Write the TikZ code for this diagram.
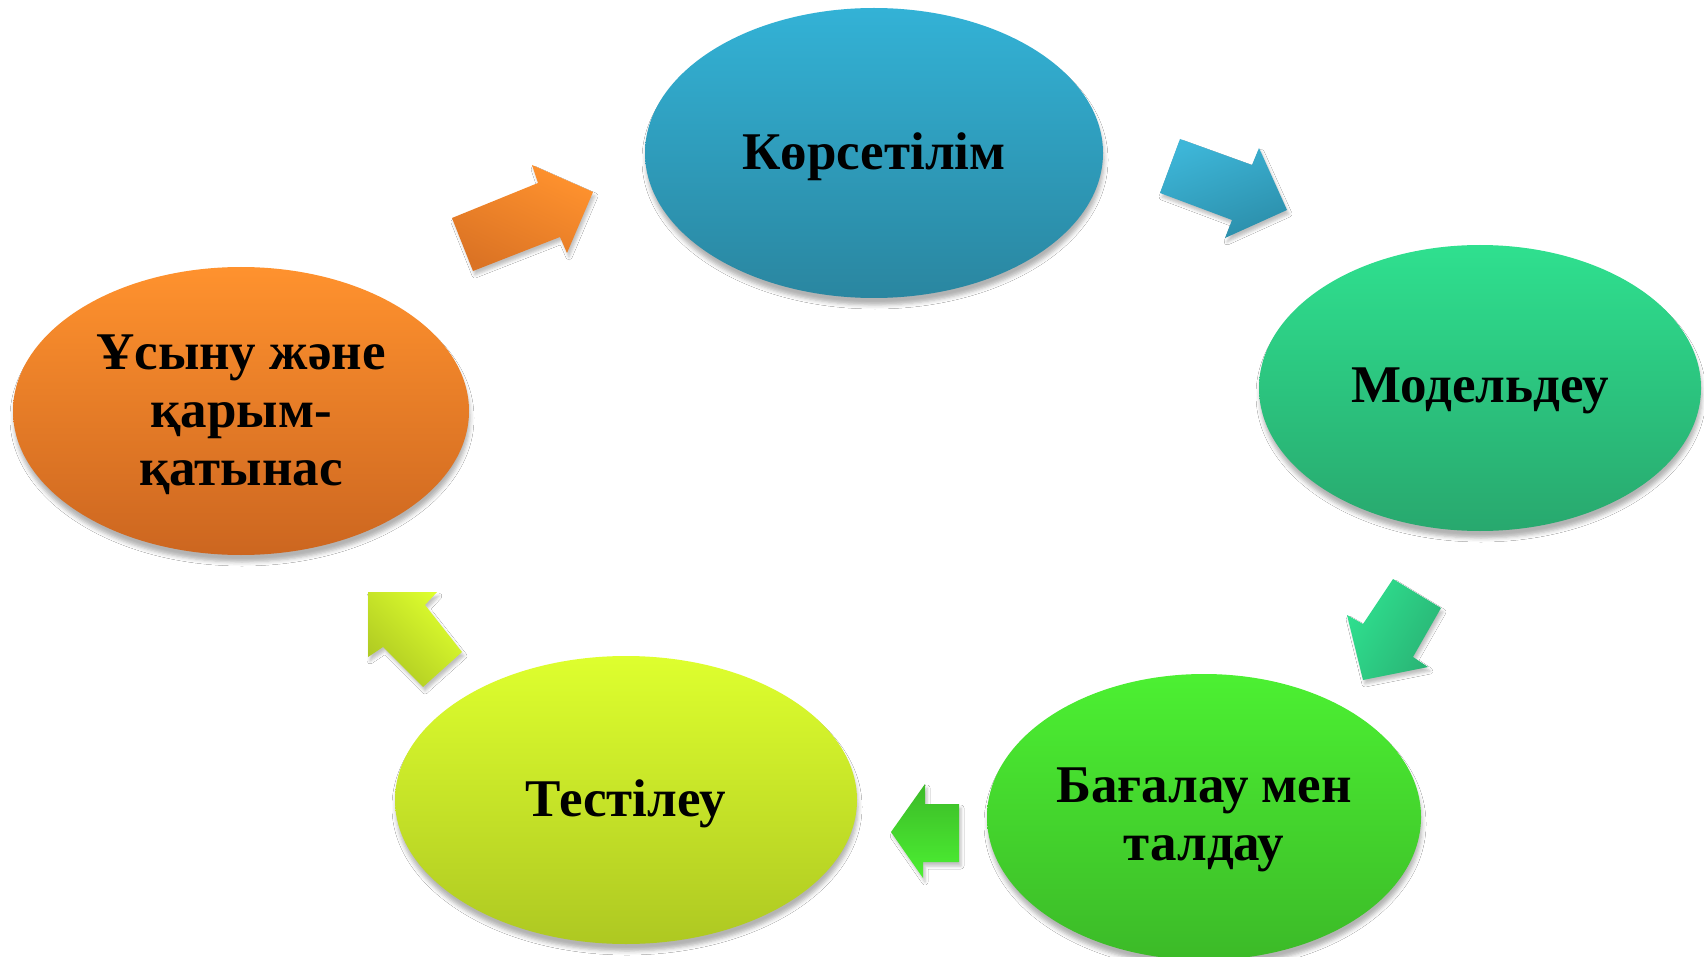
\documentclass[tikz,border=0pt]{standalone}
\usepackage{fontspec}
\setmainfont{Liberation Serif}
\usetikzlibrary{shapes.geometric,shadows.blur}
\definecolor{bluT}{HTML}{33B2D6}\definecolor{bluB}{HTML}{2A86A0}
\definecolor{grnT}{HTML}{2FE08F}\definecolor{grnB}{HTML}{28A86E}
\definecolor{limT}{HTML}{4CF032}\definecolor{limB}{HTML}{3CBA28}
\definecolor{yelT}{HTML}{DEFF2E}\definecolor{yelB}{HTML}{AEC822}
\definecolor{orgT}{HTML}{FF922E}\definecolor{orgB}{HTML}{CC6620}
\tikzset{
  stage/.style={ellipse, inner sep=0pt,
    blur shadow={shadow xshift=1pt, shadow yshift=-7pt, shadow blur radius=4pt, shadow opacity=30}},
  stagetext/.style={align=center, inner sep=0pt, font=\fontsize{53}{58}\selectfont\bfseries},
  blockarrow/.style={blur shadow={shadow xshift=2pt, shadow yshift=-4pt, shadow blur radius=3pt, shadow opacity=25}}
}
\begin{document}
\begin{tikzpicture}[x=1pt,y=-1pt]
\useasboundingbox[fill=white] (0,0) rectangle (1704,957);
\node[stage, minimum width=458pt, minimum height=290pt, top color=bluT, bottom color=bluB] (kor) at (874,153) {};
\node[stage, minimum width=442pt, minimum height=286pt, top color=grnT, bottom color=grnB] (mod) at (1480,388) {};
\node[stage, minimum width=434pt, minimum height=286pt, top color=limT, bottom color=limB] (bag) at (1204,817) {};
\node[stage, minimum width=462pt, minimum height=288pt, top color=yelT, bottom color=yelB] (tes) at (626,800) {};
\node[stage, minimum width=456pt, minimum height=288pt, top color=orgT, bottom color=orgB] (usy) at (241,411) {};
\node[stagetext] (korT) at ([yshift=-4pt]kor.center) {Көрсетілім};
\node[stagetext] (modT) at ([yshift=-3pt]mod.center) {Модельдеу};
\node[stagetext] (bagT) at ([yshift=-3pt]bag.center) {Бағалау мен\\талдау};
\node[stagetext] (tesT) at ([yshift=-4pt]tes.center) {Тестілеу};
\node[stagetext] (usyT) at ([yshift=-4pt]usy.center) {Ұсыну және\\қарым-\\қатынас};
% block arrows
\path[blockarrow, top color=orgT, bottom color=orgB!70!orgT, shading angle=-25]
  (452,218) -- (538,183) -- (532,165) -- (593,192) -- (567,253) -- (560,237) -- (473,271) -- cycle;
\path[blockarrow, top color=bluT!95!white, bottom color=bluB!80!bluT, shading angle=20]
  (1180,139) -- (1252,165) -- (1259,148) -- (1287,210) -- (1225,238) -- (1232,220) -- (1160,193) -- cycle;
\path[blockarrow, top color=grnT, bottom color=grnB!80!grnT, shading angle=60]
  (1393,579) -- (1441,608) -- (1413,657) -- (1428,667) -- (1363,680) -- (1347,615) -- (1363,624) -- cycle;
\path[blockarrow, top color=limB, bottom color=limT]
  (959,804) -- (959,862) -- (923,862) -- (923,878) -- (891,832) -- (925,784) -- (925,804) -- cycle;
\path[blockarrow, top color=yelT, bottom color=yelB, shading angle=-45]
  (462,652) -- (423,687) -- (383,647) -- (368,657) -- (368,592) -- (437,592) -- (425,605) -- cycle;
\end{tikzpicture}
\end{document}
